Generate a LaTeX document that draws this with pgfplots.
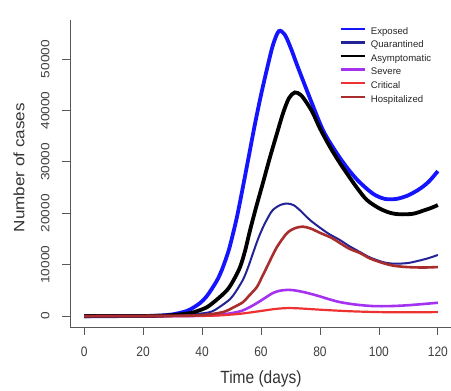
\documentclass[border=0pt]{standalone}
\usepackage{pgfplots}
\pgfplotsset{compat=1.18}
\usepackage{fontspec}
\setmainfont{Liberation Sans}
\definecolor{cExp}{RGB}{20,20,255}
\definecolor{cQua}{RGB}{35,35,150}
\definecolor{cAsy}{RGB}{0,0,0}
\definecolor{cSev}{RGB}{165,50,240}
\definecolor{cCri}{RGB}{238,50,50}
\definecolor{cHos}{RGB}{170,45,45}
\begin{document}
\begin{tikzpicture}[x=1pt,y=1pt]
\useasboundingbox (0,0) rectangle (451,391);
\begin{axis}[
  at={(70pt,63.5pt)}, anchor=south west,
  scale only axis, width=382pt, height=307.5pt,
  xmin=-4.8, xmax=124.8, ymin=-2215, ymax=57590,
  axis x line*=bottom, axis y line*=left,
  axis line style={-, black!65, line width=0.8pt},
  tick style={black!65, line width=0.8pt},
  tick align=outside, major tick length=7.5pt,
  xtick={0,20,40,60,80,100,120},
  ytick={0,10000,20000,30000,40000,50000},
  scaled y ticks=false,
  /pgf/number format/assume math mode=true,
  /pgf/number format/set thousands separator={},
  xticklabel={\scalebox{1}[1.14]{\pgfmathprintnumber{\tick}}},
  yticklabel={\scalebox{1.14}[1]{\pgfmathprintnumber{\tick}}},
  xticklabel style={font=\fontsize{12}{12}\selectfont, text=black!75, anchor=north, inner sep=0pt, yshift=-12pt},
  yticklabel style={font=\fontsize{12}{12}\selectfont, text=black!75, xshift=-13pt, rotate=90, anchor=base, inner sep=0pt},
  xlabel={\scalebox{1}[1.14]{Time (days)}},
  ylabel={\scalebox{1.14}[1]{Number of cases}},
  xlabel style={font=\fontsize{15.5}{15.5}\selectfont, text=black!80, at={(axis description cs:0.5,-0.1675)}, anchor=center},
  ylabel style={font=\fontsize{15}{15}\selectfont, text=black!80, at={(axis description cs:-0.1335,0.52)}, anchor=center, rotate=0},
  legend style={at={(axis description cs:0.705,0.976)}, anchor=north west, draw=none, fill=none, inner sep=0pt, row sep=5.1pt, column sep=5pt,
    nodes={inner sep=0pt, text height=6.5pt, text depth=2pt, font=\fontsize{9.6}{9.6}\selectfont, text=black!85}},
  legend cell align=left,
  legend image code/.code={\draw[#1, line width=2.4pt] (0pt,3pt) -- (24pt,3pt);},
]
\addplot[cExp, line width=3.8pt, smooth, tension=0.5] coordinates {
(0,0) (10,0) (20,20) (25,90) (28,200) (30,330) (33.6,780) (36,1300) (39.3,2530) (41.5,3800) (43.7,5640) (45.5,7400) (47.1,9540) (49,12700) (50.5,16000) (52,19700) (54,25500) (56,31500) (58,37500) (60,43000) (62,48000) (64,52600) (66,55400) (68,54800) (70,52300) (72,49200) (74,46200) (77,41800) (81,36200) (85,32300) (89,29000) (93,26300) (98,23800) (102,22800) (106,22800) (110,23500) (114,24800) (117,26200) (120,28200)};
\addlegendentry{Exposed}
\addplot[cQua, line width=2pt, smooth, tension=0.5] coordinates {
(0,0) (25,30) (30,100) (36,300) (42.7,780) (46,1800) (49.5,3300) (51.5,4800) (53.9,7100) (55.5,9300) (57.3,12260) (59,15000) (60.7,17300) (62.5,19300) (64,20630) (66.5,21600) (68.8,21900) (71,21600) (73,20700) (76.6,18700) (80,17200) (83,16000) (86.8,14790) (90,13600) (93.6,12450) (97,11400) (101.4,10500) (105,10200) (109.5,10300) (113,10700) (117,11300) (120,11900)};
\addlegendentry{Quarantined}
\addplot[cAsy, line width=3.8pt, smooth, tension=0.5] coordinates {
(0,0) (20,20) (25,60) (30,200) (35.9,580) (38.5,1000) (41.7,1750) (45,3200) (48.5,5060) (50.7,7000) (52.9,9540) (54.6,12700) (56.3,16740) (58.5,21500) (60.7,26000) (63,30800) (65.4,35500) (67.5,39500) (69.5,42400) (71.5,43500) (73.5,43000) (75.5,41500) (77.6,39500) (80,36500) (83.4,32900) (86.5,30000) (89.2,27700) (92.5,25000) (95.9,22600) (100,21000) (103.7,20100) (107,19800) (111.5,19900) (115,20500) (118,21100) (120,21600)};
\addlegendentry{Asymptomatic}
\addplot[cSev, line width=2.6pt, smooth, tension=0.5] coordinates {
(0,0) (35,20) (45,200) (51.9,780) (55,1400) (58.6,2530) (61,3400) (64,4480) (66.5,4950) (69.5,5100) (72,4950) (75,4600) (79,4000) (83,3300) (86.8,2720) (92,2250) (98,1950) (104,1950) (109.5,2100) (115,2350) (120,2600)};
\addlegendentry{Severe}
\addplot[cCri, line width=2.2pt, smooth, tension=0.5] coordinates {
(0,0) (40,50) (50,300) (55,600) (60,1000) (65,1400) (69,1560) (73,1500) (80,1250) (90,950) (100,780) (110,740) (120,780)};
\addlegendentry{Critical}
\addplot[cHos, line width=2.6pt, smooth, tension=0.5] coordinates {
(0,0) (30,30) (40,200) (47.1,780) (51,1800) (53.9,2720) (56,4000) (58.6,5640) (60,7200) (62,9540) (64,11900) (65.4,13430) (67.5,15200) (69.2,16350) (71.5,17100) (74.2,17400) (77,17000) (80,16200) (84,15200) (86.8,14200) (90,13100) (93.6,12260) (97,11200) (101.4,10310) (105,9800) (109.5,9540) (115,9450) (120,9540)};
\addlegendentry{Hospitalized}
\end{axis}
\end{tikzpicture}
\end{document}
